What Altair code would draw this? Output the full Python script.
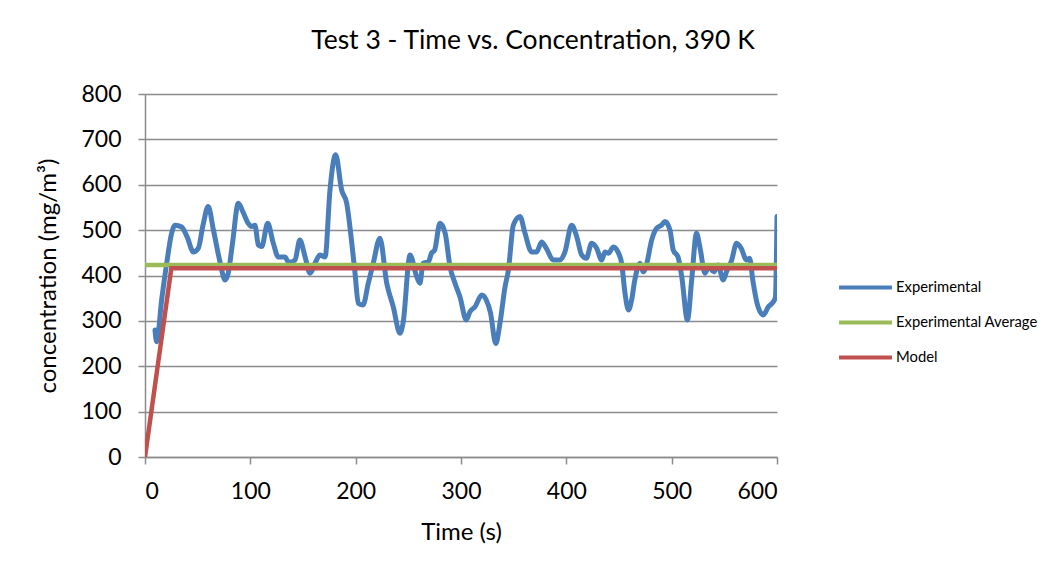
import altair as alt
import pandas as pd

# Experimental series (time s, concentration mg/m3)
exp_t = [9.5, 11, 16, 20.6, 25, 28.5, 34.8, 40, 45.9, 50.6, 55, 60, 65, 71.2, 76, 79, 83,
         88.6, 93, 98, 101, 104.4, 107.6, 110.8, 116.5, 121.8, 126.6, 133, 136, 139,
         142.4, 147, 152, 156.7, 161.4, 166, 171, 175.6, 181, 186.7, 191.5, 196, 199.4,
         202.5, 207, 212, 216.7, 223, 229.5, 235.7, 242, 245, 251.6, 258, 261, 264, 269,
         272, 275, 280, 285, 289.6, 294.3, 299, 305, 308.5, 313.3, 319.7, 324, 328, 333,
         337, 341.8, 345, 349.7, 356, 360.8, 367, 371.8, 376.5, 381, 387.6, 394, 398.7,
         405, 409.8, 414.6, 419, 424, 428.8, 433.5, 436.7, 440, 444.6, 449, 452.5, 455.7,
         459, 462, 465, 470, 473, 476, 481, 485.7, 490.4, 493.7, 498.4, 501.5, 506, 509.6,
         515, 519, 523.6, 527, 531.6, 535, 540, 544, 549, 552, 557, 561.6, 566, 571, 574,
         577, 582, 587, 591.8, 596.5, 598.5, 600]
exp_v = [280, 254, 350, 427, 490, 511, 507, 485, 452, 460, 510, 552, 500, 430, 390, 405, 470,
         559, 540, 515, 508, 511, 467, 464, 515, 471, 441, 441, 430, 430,
         434, 478, 441, 405, 427, 445, 441, 588, 666, 588, 559, 478, 405,
         339, 335, 383, 427, 482, 383, 331, 273, 295, 445, 397, 383, 427, 430,
         449, 456, 515, 493, 419, 383, 353, 302, 320, 331, 357, 346, 318, 250,
         295, 375, 412, 511, 530, 493, 452, 452, 474, 460, 434, 434, 452,
         511, 486, 445, 438, 471, 460, 434, 452, 449, 463, 452, 427, 361,
         324, 346, 390, 427, 408, 423, 478, 504, 511, 519, 500, 456, 441, 397,
         302, 390, 493, 460, 405, 419, 408, 423, 390, 408, 434, 471, 460, 434, 438,
         390, 331, 313, 331, 342, 352, 530]

avg_t = [0, 600]
avg_v = [423, 423]

model_t = [0, 25, 600]
model_v = [0, 416, 416]

series_names = ["Experimental", "Experimental Average", "Model"]
series_colors = ["#4a7ebb", "#9bbb59", "#c0504d"]

df_exp = pd.DataFrame({"t": exp_t, "v": exp_v, "series": series_names[0]})
df_avg = pd.DataFrame({"t": avg_t, "v": avg_v, "series": series_names[1]})
df_mod = pd.DataFrame({"t": model_t, "v": model_v, "series": series_names[2]})

FONT = "Lato"
GRID = "#8c8c8c"

x_enc = alt.X("t:Q", scale=alt.Scale(domain=[0, 600], nice=False),
              axis=alt.Axis(title="Time (s)", values=[0, 100, 200, 300, 400, 500, 600],
                            grid=False, labelPadding=16, titlePadding=17))
y_enc = alt.Y("v:Q", scale=alt.Scale(domain=[0, 800], nice=False),
              axis=alt.Axis(title="concentration (mg/m³)",
                            values=[0, 100, 200, 300, 400, 500, 600, 700, 800],
                            grid=True, labelPadding=17, titlePadding=20))
color_enc = alt.Color("series:N",
                      scale=alt.Scale(domain=series_names, range=series_colors),
                      legend=alt.Legend(title=None, orient="none", legendX=705, legendY=178,
                                        symbolType="M-2,0H2", symbolSize=700,
                                        symbolStrokeWidth=4, labelOffset=15,
                                        rowPadding=11, labelFont=FONT, labelFontSize=14.8,
                                        labelColor="#000000"))

exp_line = alt.Chart(df_exp).mark_line(interpolate="monotone", strokeWidth=5,
                                       strokeCap="round", clip=True).encode(
    x=x_enc, y=y_enc, color=color_enc)
avg_line = alt.Chart(df_avg).mark_line(strokeWidth=4.5, clip=True).encode(
    x=x_enc, y=y_enc, color=color_enc)
mod_line = alt.Chart(df_mod).mark_line(strokeWidth=4.5, strokeCap="round",
                                       clip=True).encode(
    x=x_enc, y=y_enc, color=color_enc)

chart = alt.layer(exp_line, avg_line, mod_line).properties(
    width=632, height=363,
    background="#ffffff",
    padding={"left": 137, "top": 86, "right": 267, "bottom": 113},
    autosize=alt.AutoSizeParams(type="none"),
    title=alt.TitleParams("Test 3 - Time vs. Concentration, 390 K", font=FONT,
                          fontSize=26.5, fontWeight="normal", color="#000000",
                          anchor="middle", frame="group", dx=72, offset=29),
).configure_view(stroke=None).configure_axis(
    labelFont=FONT, labelFontSize=23, labelColor="#000000",
    titleFont=FONT, titleFontSize=24, titleFontWeight="normal", titleColor="#000000",
    domainColor=GRID, domainWidth=1.5, tickColor=GRID, tickWidth=1.5, tickSize=7,
    gridColor=GRID, gridWidth=1.5, gridOpacity=1,
)

chart.save("out.html", embed_options={"renderer": "svg", "actions": False})
